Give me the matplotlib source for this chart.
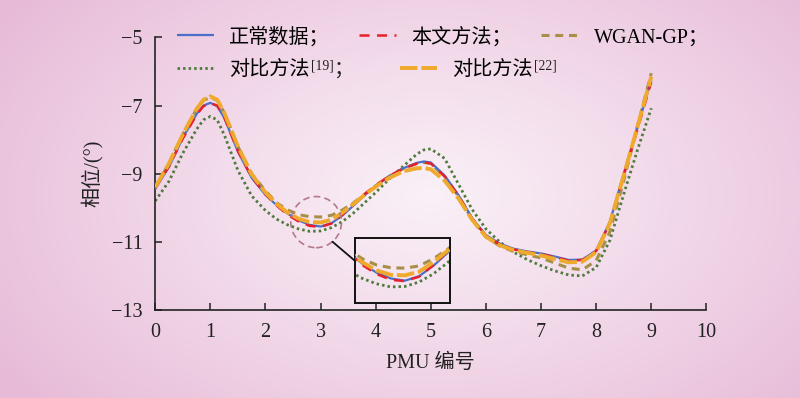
#!/usr/bin/env python3
"""Phase curves per PMU: measured data vs. reconstructions, with zoom inset."""
import numpy as np
import matplotlib
matplotlib.use("Agg")
import matplotlib.pyplot as plt
from matplotlib.patches import Ellipse, ConnectionPatch

plt.rcParams["font.family"] = ["Liberation Serif", "Noto Sans CJK SC"]
plt.rcParams["axes.unicode_minus"] = True

# ---- data ------------------------------------------------------------------
pmu = [0, 0.25, 0.5, 0.75, 0.875, 1.0, 1.125, 1.25, 1.5, 1.75, 2.0,
       2.2, 2.4, 2.6, 2.8, 3.0, 3.2, 3.4, 3.6, 3.8, 4.0,
       4.25, 4.5, 4.75, 4.875, 5.0, 5.25, 5.5, 5.75, 6.0,
       6.25, 6.5, 6.75, 7.0, 7.25, 7.5, 7.75, 8.0, 8.25, 8.5, 8.75, 9.0]

phase_normal = [-9.45, -8.8, -7.95, -7.25, -7.0, -6.92, -7.02, -7.35, -8.35, -9.12, -9.62,
                -9.92, -10.17, -10.37, -10.5, -10.55, -10.45, -10.22, -9.93, -9.63, -9.36,
                -9.07, -8.84, -8.68, -8.64, -8.67, -9.05, -9.62, -10.3, -10.8,
                -11.05, -11.2, -11.28, -11.34, -11.43, -11.53, -11.52, -11.25, -10.4, -9.0, -7.63, -6.25]
phase_ours = [-9.42, -8.78, -7.97, -7.27, -7.02, -6.93, -7.0, -7.33, -8.33, -9.1, -9.6,
              -9.93, -10.2, -10.4, -10.53, -10.56, -10.46, -10.2, -9.9, -9.6, -9.34,
              -9.06, -8.85, -8.7, -8.66, -8.7, -9.08, -9.64, -10.32, -10.82,
              -11.07, -11.22, -11.3, -11.36, -11.45, -11.55, -11.53, -11.27, -10.45, -9.05, -7.7, -6.3]
phase_wgan = [-9.4, -8.7, -7.85, -7.1, -6.85, -6.76, -6.85, -7.2, -8.2, -9.0, -9.5,
              -9.85, -10.06, -10.2, -10.26, -10.27, -10.22, -10.06, -9.85, -9.6, -9.35,
              -9.07, -8.85, -8.7, -8.67, -8.7, -9.08, -9.66, -10.33, -10.85,
              -11.12, -11.28, -11.38, -11.47, -11.62, -11.77, -11.82, -11.55, -10.7, -9.2, -7.6, -6.05]
phase_ref19 = [-9.8, -9.22, -8.4, -7.7, -7.42, -7.32, -7.42, -7.85, -8.9, -9.65, -10.08,
               -10.33, -10.5, -10.62, -10.69, -10.68, -10.58, -10.4, -10.15, -9.85, -9.55,
               -9.15, -8.78, -8.42, -8.3, -8.27, -8.55, -9.3, -10.05, -10.62,
               -11.0, -11.3, -11.52, -11.7, -11.85, -11.97, -12.0, -11.75, -10.95, -9.6, -8.3, -7.08]
phase_ref22 = [-9.4, -8.7, -7.85, -7.1, -6.83, -6.73, -6.83, -7.2, -8.2, -9.02, -9.55,
               -9.88, -10.14, -10.32, -10.42, -10.43, -10.35, -10.14, -9.88, -9.62, -9.38,
               -9.12, -8.93, -8.84, -8.83, -8.87, -9.2, -9.72, -10.35, -10.85,
               -11.1, -11.24, -11.32, -11.4, -11.5, -11.6, -11.58, -11.3, -10.45, -9.05, -7.62, -6.15]

labels = ["正常数据；", "本文方法；", "WGAN-GP；", "对比方法", "对比方法"]
label_refs = [None, None, None, "[19]", "[22]"]   # superscript citation after label
label_tails = [None, None, None, "；", None]
xticks = list(range(0, 11))
yticks = [-13, -11, -9, -7, -5]

# zoomed window (circle in main plot, box shows it enlarged)
zoom_xlim = (2.3, 3.63)
zoom_ylim = (-11.04, -9.59)
circle_center = (2.92, -10.42)
circle_size = (0.92, 1.5)
inset_box = [3.63, -12.78, 1.71, 1.9]  # x0, y0, w, h in data units

# ---- styles ------------------------------------------------------------------
STYLES = [
    dict(color="#4a6fc8", lw=1.6, ls="-", zorder=3),                       # normal
    dict(color="#e8202c", lw=1.8, ls=(0, (4, 3)), zorder=4),               # ours
    dict(color="#a88f48", lw=2.2, ls=(0, (2.6, 1.9)), zorder=2),           # WGAN-GP
    dict(color="#4f7a3c", lw=2.0, ls=(0, (0.9, 1.1)), zorder=1),           # ref 19
    dict(color="#efa92c", lw=2.8, ls=(0, (4.5, 1.0)), zorder=5),           # ref 22
]
SERIES = [phase_normal, phase_ours, phase_wgan, phase_ref19, phase_ref22]
TXT = "#222222"
LEG_FS = 14.5


def add_background(fig):
    bg = fig.add_axes([0, 0, 1, 1], zorder=-10)
    h, w = 398, 800
    yy, xx = np.mgrid[0:h, 0:w]
    r = np.clip(np.hypot((xx - 430) / 520, (yy - 195) / 330), 0, 1)
    inner = np.array([250, 240, 247]) / 255
    outer = np.array([231, 186, 215]) / 255
    img = inner + (outer - inner) * (r[..., None] ** 1.1)
    bg.imshow(img, aspect="auto", extent=[0, 1, 0, 1], interpolation="bilinear")
    bg.axis("off")


def draw_lines(ax):
    out = []
    for y, st in zip(SERIES, STYLES):
        ln, = ax.plot(pmu, y, color=st["color"], lw=st["lw"], ls=st["ls"],
                      zorder=st["zorder"], solid_capstyle="butt", dash_capstyle="butt")
        out.append(ln)
    return out


def text_after(fig, artist, s, size):
    """Superscript-style text right after artist (pixel layout from a finished draw)."""
    r = fig.canvas.get_renderer()
    bb = artist.get_window_extent(r)
    inv = fig.transFigure.inverted()
    x, y = inv.transform((bb.x1 + 1, bb.y1 + 1))
    t = fig.text(x, y, s, fontsize=size, color=TXT, ha="left", va="top")
    fig.canvas.draw()
    return t


def main():
    fig = plt.figure(figsize=(8, 3.98), dpi=100)
    add_background(fig)

    ax = fig.add_axes([0.194, 0.221, 0.689, 0.685])
    ax.set_facecolor("none")
    lines = draw_lines(ax)

    ax.set_xlim(0, 10)
    ax.set_ylim(-13, -5)
    ax.set_xticks(xticks)
    ax.set_yticks(yticks)
    for s in ("top", "right"):
        ax.spines[s].set_visible(False)
    for s in ("left", "bottom"):
        ax.spines[s].set_color(TXT)
        ax.spines[s].set_linewidth(1.2)
    ax.tick_params(axis="both", direction="in", length=5, width=1.1, colors=TXT,
                   labelsize=14.5)
    ax.tick_params(axis="y", pad=9)
    ax.tick_params(axis="x", pad=9)
    ax.set_xlabel("PMU 编号", fontsize=14.5, color=TXT, labelpad=9)
    ax.set_ylabel("相位/(°)", fontsize=14.5, color=TXT, labelpad=6)

    # dashed circle marking the zoomed region
    circ = Ellipse(circle_center, circle_size[0], circle_size[1], fill=False,
                   ec="#b27a8a", lw=1.2, ls=(0, (4, 2.5)), zorder=6)
    ax.add_patch(circ)

    axins = ax.inset_axes(inset_box, transform=ax.transData)
    axins.set_facecolor("none")
    draw_lines(axins)
    axins.set_xlim(*zoom_xlim)
    axins.set_ylim(*zoom_ylim)
    axins.set_xticks([]); axins.set_yticks([])
    for s in axins.spines.values():
        s.set_color("#111111"); s.set_linewidth(1.4)

    t = np.deg2rad(-50)
    pa = (circle_center[0] + circle_size[0] / 2 * np.cos(t),
          circle_center[1] + circle_size[1] / 2 * np.sin(t))
    con = ConnectionPatch(xyA=pa, coordsA=ax.transData, xyB=(0, 0.64),
                          coordsB=axins.transAxes, color="#111111", lw=1.3)
    fig.add_artist(con)

    # legend: row 1 as one legend, row 2 as two one-entry legends whose
    # labels get a superscript citation appended as separate text
    common = dict(frameon=False, fontsize=LEG_FS, handlelength=1.85, handletextpad=0.75,
                  columnspacing=1.45, borderpad=0, borderaxespad=0, loc="center left")
    fig.legend(lines[:3], labels[:3], ncol=3, bbox_to_anchor=(0.221, 0.907), **common)
    row2 = []
    for i, x0 in zip((3, 4), (0.221, 0.50)):
        leg = fig.legend([lines[i]], [labels[i]], bbox_to_anchor=(x0, 0.824), **common)
        row2.append((i, leg.get_texts()[0]))
    fig.canvas.draw()
    for i, txt in row2:
        sup = text_after(fig, txt, label_refs[i], 9.8)
        if label_tails[i]:
            r = fig.canvas.get_renderer()
            bb_t = txt.get_window_extent(r)
            bb_s = sup.get_window_extent(r)
            x, y = fig.transFigure.inverted().transform((bb_s.x1, bb_t.y0))
            fig.text(x, y, label_tails[i], fontsize=LEG_FS, color=TXT, ha="left", va="bottom")

    fig.savefig("out.png", dpi=100)
    plt.close(fig)


if __name__ == "__main__":
    main()
